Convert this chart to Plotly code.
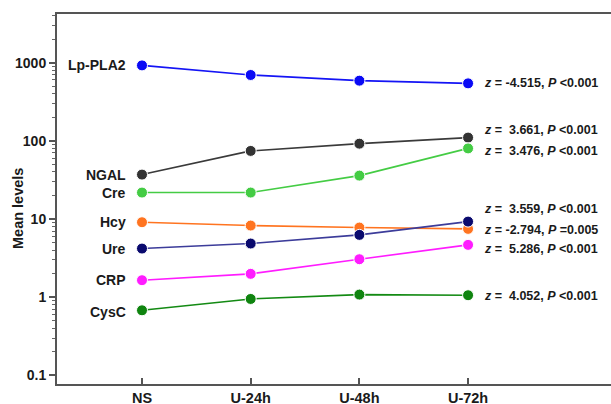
import math
import plotly.graph_objects as go

categories = ["NS", "U-24h", "U-48h", "U-72h"]

series_names = ["Lp-PLA2", "NGAL", "Cre", "Hcy", "Ure", "CRP", "CysC"]
lp_pla2 = [922, 695, 588, 543]
ngal = [37, 74.3, 92, 110]
cre = [21.8, 21.8, 35.9, 80]
hcy = [9.1, 8.25, 7.78, 7.48]
ure = [4.19, 4.86, 6.27, 9.27]
crp = [1.65, 1.99, 3.06, 4.67]
cysc = [0.68, 0.95, 1.08, 1.06]

z_values = ["-4.515", "3.661", "3.476", "-2.794", "3.559", "5.286", "4.052"]
p_values = ["<0.001", "<0.001", "<0.001", "=0.005", "<0.001", "<0.001", "<0.001"]

y_tick_vals = [0.1, 1, 10, 100, 1000]
y_tick_text = ["0.1", "1", "10", "100", "1000"]

values = [lp_pla2, ngal, cre, hcy, ure, crp, cysc]
line_colors = ["#1414f5", "#3a3a3a", "#44cc44", "#ff7420", "#3c3c9a", "#ff1cff", "#138a13"]
marker_colors = ["#0a0af5", "#333333", "#44cc44", "#ff7420", "#0a0a6e", "#ff1cff", "#0f840f"]
left_yshift = [0, 0, 0, 0, 0, 0, -2]
right_yshift = [0, 8, -3, -1, 13, -4, -1]

font_family = "Liberation Sans, Arial, sans-serif"

fig = go.Figure()
for name, vals, lc, mc in zip(series_names, values, line_colors, marker_colors):
    fig.add_trace(go.Scatter(
        x=categories, y=vals, mode="lines+markers", name=name,
        line=dict(color=lc, width=1.6),
        marker=dict(color=mc, size=11, line=dict(color="white", width=1)),
        showlegend=False,
    ))

annotations = []
for name, vals, z, p, ls, rs in zip(series_names, values, z_values, p_values, left_yshift, right_yshift):
    annotations.append(dict(
        x=0, y=math.log10(vals[0]), yref="y", xref="x", yanchor="middle",
        text=name, showarrow=False, xanchor="right", xshift=-14, yshift=ls,
        font=dict(family=font_family, size=14, color="#1a1a1a", weight="bold"),
    ))
    zt = z if z.startswith("-") else "&nbsp;" + z
    ptxt = p.replace("<", "&lt;")
    annotations.append(dict(
        x=len(categories) - 1, y=math.log10(vals[-1]), yref="y", xref="x", yanchor="middle",
        text=f"<i>z</i> = {zt}, <i>P</i> {ptxt}", showarrow=False,
        xanchor="left", xshift=14, yshift=rs,
        font=dict(family=font_family, size=12.5, color="#1a1a1a", weight="bold"),
    ))

plot_w = 611 - 57
plot_h = 384 - 14
annotations.append(dict(
    x=(18 - 57) / plot_w, y=(384 - 209) / plot_h, xref="paper", yref="paper",
    xanchor="center", yanchor="middle",
    text="Mean levels", showarrow=False, textangle=-90,
    font=dict(family=font_family, size=14.5, color="#1a1a1a", weight="bold"),
))

fig.update_layout(
    width=611, height=404,
    margin=dict(l=57, r=0, t=14, b=20, autoexpand=False),
    paper_bgcolor="white", plot_bgcolor="white",
    annotations=annotations,
    font=dict(family=font_family, color="#1a1a1a"),
)
fig.update_xaxes(
    type="category", range=[-0.782, 4.315],
    showgrid=False, zeroline=False,
    showline=True, linecolor="#555555", linewidth=2, mirror=True,
    ticks="inside", ticklen=6, tickwidth=1.5, tickcolor="#555555",
    tickfont=dict(family=font_family, size=14.5, color="#1a1a1a", weight="bold"),
    automargin=False,
)
fig.update_yaxes(
    type="log", range=[-1.11, 3.622],
    showgrid=False, zeroline=False,
    showline=True, linecolor="#555555", linewidth=2,
    ticks="outside", ticklen=6, tickwidth=1.5, tickcolor="#555555",
    tickvals=y_tick_vals, ticktext=y_tick_text,
    tickfont=dict(family=font_family, size=14, color="#1a1a1a", weight="bold"),
    minor=dict(ticks="outside", ticklen=3.5, tickwidth=1, tickcolor="#666666",
               tickvals=[m * 10 ** e for e in range(-1, 4) for m in range(2, 10)]),
    automargin=False,
)

fig.write_html("out.html")
